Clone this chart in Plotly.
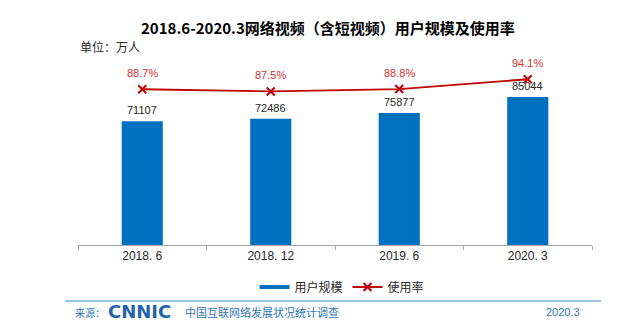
import plotly.graph_objects as go

categories = ["2018. 6", "2018. 12", "2019. 6", "2020. 3"]
users = [71107, 72486, 75877, 85044]
rates = [88.7, 87.5, 88.8, 94.1]
rate_labels = ["88.7%", "87.5%", "88.8%", "94.1%"]
series_names = ["用户规模", "使用率"]

BLUE = "#0070C0"
RED = "#C00000"
RED_TXT = "#D63232"
FOOT = "#2E75B6"
FONT = "Liberation Sans, Noto Sans CJK SC, sans-serif"

L, R, T, B = 78, 48, 60, 86
W, H = 640, 331
PW, PH = W - L - R, H - T - B

def px_x(x):
    return (x - L) / PW

def px_y(y):
    return (H - B - y) / PH

fig = go.Figure()
fig.add_trace(go.Bar(x=categories, y=users, marker=dict(color=BLUE, line=dict(width=0)),
                     width=0.32, showlegend=False, hoverinfo="skip"))
fig.add_trace(go.Scatter(x=categories, y=rates, yaxis="y2", mode="lines+markers",
                         line=dict(color=RED, width=1.8),
                         marker=dict(symbol="x-thin", size=8, line=dict(color=RED, width=2)),
                         showlegend=False, hoverinfo="skip"))
# legend entries
fig.add_trace(go.Scatter(x=[None], y=[None], mode="lines", name=series_names[0],
                         line=dict(color=BLUE, width=4)))
fig.add_trace(go.Scatter(x=[None], y=[None], mode="lines+markers", name=series_names[1],
                         line=dict(color=RED, width=1.8),
                         marker=dict(symbol="x-thin", size=8, line=dict(color=RED, width=2))))

annotations = []
for c, v in zip(categories, users):
    annotations.append(dict(x=c, y=v, xref="x", yref="y", text=str(v), showarrow=False,
                            yanchor="middle", yshift=11, font=dict(size=11, color="#262626", family=FONT)))
for c, v, t in zip(categories, rates, rate_labels):
    annotations.append(dict(x=c, y=v, xref="x", yref="y2", text=t, showarrow=False,
                            yanchor="middle", yshift=16, font=dict(size=11, color=RED_TXT, family=FONT)))

annotations += [
    dict(x=px_x(328), y=px_y(27), xref="paper", yref="paper", text="<b>2018.6-2020.3网络视频（含短视频）用户规模及使用率</b>",
         showarrow=False, xanchor="center", yanchor="middle",
         font=dict(size=15, color="#000000", family="Noto Sans CJK SC, sans-serif")),
    dict(x=px_x(78), y=px_y(46), xref="paper", yref="paper", text="单位：万人", showarrow=False,
         xanchor="left", yanchor="middle", font=dict(size=12, color="#262626", family="Noto Sans CJK SC")),
    dict(x=px_x(73), y=px_y(312), xref="paper", yref="paper", text="来源：", showarrow=False,
         xanchor="left", yanchor="middle", font=dict(size=10, color=FOOT, family="Noto Sans CJK SC")),
    dict(x=px_x(106), y=px_y(311), xref="paper", yref="paper", text="<b>CNNIC</b>", showarrow=False,
         xanchor="left", yanchor="middle", font=dict(size=18, color="#1F63AE", family="DejaVu Sans")),
    dict(x=px_x(183), y=px_y(312), xref="paper", yref="paper", text="中国互联网络发展状况统计调查", showarrow=False,
         xanchor="left", yanchor="middle", font=dict(size=11, color=FOOT, family="Noto Sans CJK SC")),
    dict(x=px_x(582), y=px_y(312), xref="paper", yref="paper", text="2020.3", showarrow=False,
         xanchor="right", yanchor="middle", font=dict(size=11, color=FOOT, family=FONT)),
]

fig.update_layout(
    width=W, height=H, margin=dict(l=L, r=R, t=T, b=B),
    paper_bgcolor="white", plot_bgcolor="white",
    font=dict(family=FONT, size=12, color="#262626"),
    xaxis=dict(type="category", showline=True, linecolor="#A6A6A6", linewidth=1,
               ticks="outside", tickson="boundaries", ticklen=4, tickcolor="#A6A6A6",
               showgrid=False, tickfont=dict(size=12, color="#262626", family=FONT),
               range=[-0.5, 3.5]),
    yaxis=dict(range=[0, PH / 0.00174], visible=False, showgrid=False),
    yaxis2=dict(range=[4.5, 104.5], overlaying="y", side="right", visible=False, showgrid=False),
    legend=dict(orientation="h", x=px_x(342), y=px_y(287), xanchor="center", yanchor="middle",
                font=dict(size=12, color="#262626", family="Noto Sans CJK SC"), bgcolor="rgba(0,0,0,0)",
                itemwidth=30),
    annotations=annotations,
    shapes=[dict(type="line", xref="paper", yref="paper", x0=px_x(65), x1=px_x(601),
                 y0=px_y(301), y1=px_y(301), line=dict(color="#9DC3E6", width=2))],
    showlegend=True,
)

fig.write_html("out.html")
